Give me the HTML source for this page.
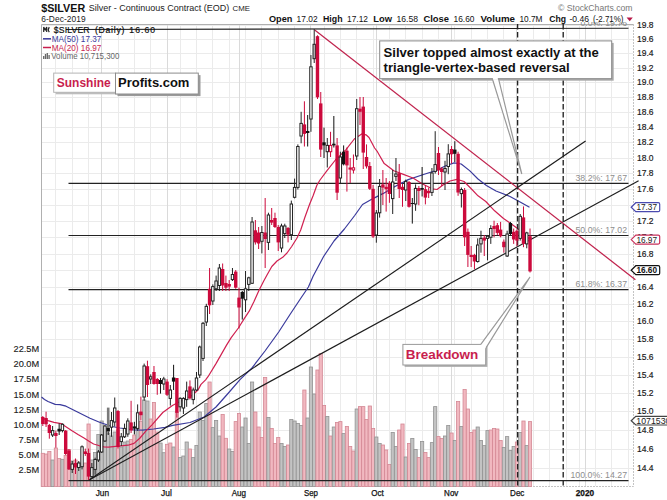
<!DOCTYPE html>
<html><head><meta charset="utf-8"><title>$SILVER chart</title>
<style>html,body{margin:0;padding:0;background:#fff;width:667px;height:500px;overflow:hidden;font-family:"Liberation Sans",sans-serif}</style></head>
<body>
<svg width="667" height="500" viewBox="0 0 667 500" style="position:absolute;left:0;top:0;font-family:'Liberation Sans',sans-serif">
<rect x="0" y="0" width="667" height="500" fill="#fff"/>
<path d="M41 468.5H633M41 449.5H633M41 430.5H633M41 411.5H633M41 393.5H633M41 375.5H633M41 357.5H633M41 339.5H633M41 321.5H633M41 304.5H633M41 287.5H633M41 270.5H633M41 254.5H633M41 237.5H633M41 221.5H633M41 205.5H633M41 189.5H633M41 173.5H633M41 158.5H633M41 142.5H633M41 127.5H633M41 112.5H633M41 97.5H633M41 82.5H633M41 68.5H633M41 53.5H633M41 39.5H633M41 25.5H633M55.5 24V486M72.5 24V486M88.5 24V486M118.5 24V486M134.5 24V486M150.5 24V486M180.5 24V486M196.5 24V486M212.5 24V486M229.5 24V486M245.5 24V486M261.5 24V486M278.5 24V486M294.5 24V486M324.5 24V486M340.5 24V486M356.5 24V486M373.5 24V486M389.5 24V486M405.5 24V486M422.5 24V486M438.5 24V486M454.5 24V486M471.5 24V486M487.5 24V486M503.5 24V486M533.5 24V486M549.5 24V486M566.5 24V486M579.5 24V486M595.5 24V486M611.5 24V486M628.5 24V486" stroke="#ebebeb" stroke-width="1" fill="none"/>
<path d="M101.5 24V486M167.5 24V486M239.5 24V486M310.5 24V486M376.5 24V486M451.5 24V486M516.5 24V486M585.5 24V486" stroke="#dadada" stroke-width="1" fill="none"/>
<path d="M41.5 486.5V24.5H633.5" stroke="#b0b0b0" fill="none"/>
<path d="M633.5 24V486.5H41" stroke="#c4c4c4" stroke-dasharray="2 1" fill="none"/>
<rect x="41.20" y="453.3" width="3.2" height="33.2" fill="#f1b8c0" stroke="#d48894" stroke-width="0.8"/>
<rect x="44.47" y="454.0" width="3.2" height="32.5" fill="#f1b8c0" stroke="#d48894" stroke-width="0.8"/>
<rect x="47.74" y="451.5" width="3.2" height="35.0" fill="#f1b8c0" stroke="#d48894" stroke-width="0.8"/>
<rect x="51.01" y="460.0" width="3.2" height="26.5" fill="#c3c3c3" stroke="#929292" stroke-width="0.8"/>
<rect x="54.28" y="448.0" width="3.2" height="38.5" fill="#f1b8c0" stroke="#d48894" stroke-width="0.8"/>
<rect x="57.55" y="458.5" width="3.2" height="28.0" fill="#f1b8c0" stroke="#d48894" stroke-width="0.8"/>
<rect x="60.82" y="459.3" width="3.2" height="27.2" fill="#c3c3c3" stroke="#929292" stroke-width="0.8"/>
<rect x="64.09" y="455.4" width="3.2" height="31.1" fill="#f1b8c0" stroke="#d48894" stroke-width="0.8"/>
<rect x="67.36" y="449.5" width="3.2" height="37.0" fill="#f1b8c0" stroke="#d48894" stroke-width="0.8"/>
<rect x="70.63" y="461.0" width="3.2" height="25.5" fill="#c3c3c3" stroke="#929292" stroke-width="0.8"/>
<rect x="73.90" y="460.0" width="3.2" height="26.5" fill="#f1b8c0" stroke="#d48894" stroke-width="0.8"/>
<rect x="77.17" y="463.0" width="3.2" height="23.5" fill="#c3c3c3" stroke="#929292" stroke-width="0.8"/>
<rect x="80.44" y="464.5" width="3.2" height="22.0" fill="#c3c3c3" stroke="#929292" stroke-width="0.8"/>
<rect x="83.71" y="463.0" width="3.2" height="23.5" fill="#f1b8c0" stroke="#d48894" stroke-width="0.8"/>
<rect x="86.98" y="424.0" width="3.2" height="62.5" fill="#f1b8c0" stroke="#d48894" stroke-width="0.8"/>
<rect x="90.25" y="460.0" width="3.2" height="26.5" fill="#c3c3c3" stroke="#929292" stroke-width="0.8"/>
<rect x="93.52" y="452.5" width="3.2" height="34.0" fill="#c3c3c3" stroke="#929292" stroke-width="0.8"/>
<rect x="96.79" y="434.5" width="3.2" height="52.0" fill="#c3c3c3" stroke="#929292" stroke-width="0.8"/>
<rect x="100.06" y="421.0" width="3.2" height="65.5" fill="#c3c3c3" stroke="#929292" stroke-width="0.8"/>
<rect x="103.33" y="427.0" width="3.2" height="59.5" fill="#c3c3c3" stroke="#929292" stroke-width="0.8"/>
<rect x="106.60" y="433.0" width="3.2" height="53.5" fill="#c3c3c3" stroke="#929292" stroke-width="0.8"/>
<rect x="109.87" y="436.0" width="3.2" height="50.5" fill="#c3c3c3" stroke="#929292" stroke-width="0.8"/>
<rect x="113.14" y="432.0" width="3.2" height="54.5" fill="#c3c3c3" stroke="#929292" stroke-width="0.8"/>
<rect x="116.41" y="430.0" width="3.2" height="56.5" fill="#f1b8c0" stroke="#d48894" stroke-width="0.8"/>
<rect x="119.68" y="447.0" width="3.2" height="39.5" fill="#c3c3c3" stroke="#929292" stroke-width="0.8"/>
<rect x="122.95" y="442.0" width="3.2" height="44.5" fill="#c3c3c3" stroke="#929292" stroke-width="0.8"/>
<rect x="126.22" y="441.0" width="3.2" height="45.5" fill="#c3c3c3" stroke="#929292" stroke-width="0.8"/>
<rect x="129.49" y="439.5" width="3.2" height="47.0" fill="#f1b8c0" stroke="#d48894" stroke-width="0.8"/>
<rect x="132.76" y="435.0" width="3.2" height="51.5" fill="#f1b8c0" stroke="#d48894" stroke-width="0.8"/>
<rect x="136.03" y="429.0" width="3.2" height="57.5" fill="#c3c3c3" stroke="#929292" stroke-width="0.8"/>
<rect x="139.30" y="421.5" width="3.2" height="65.0" fill="#f1b8c0" stroke="#d48894" stroke-width="0.8"/>
<rect x="142.57" y="400.0" width="3.2" height="86.5" fill="#c3c3c3" stroke="#929292" stroke-width="0.8"/>
<rect x="145.84" y="401.0" width="3.2" height="85.5" fill="#c3c3c3" stroke="#929292" stroke-width="0.8"/>
<rect x="149.11" y="419.0" width="3.2" height="67.5" fill="#f1b8c0" stroke="#d48894" stroke-width="0.8"/>
<rect x="152.38" y="402.4" width="3.2" height="84.1" fill="#f1b8c0" stroke="#d48894" stroke-width="0.8"/>
<rect x="155.65" y="432.0" width="3.2" height="54.5" fill="#f1b8c0" stroke="#d48894" stroke-width="0.8"/>
<rect x="158.92" y="443.0" width="3.2" height="43.5" fill="#c3c3c3" stroke="#929292" stroke-width="0.8"/>
<rect x="162.19" y="452.7" width="3.2" height="33.8" fill="#c3c3c3" stroke="#929292" stroke-width="0.8"/>
<rect x="165.46" y="444.3" width="3.2" height="42.2" fill="#f1b8c0" stroke="#d48894" stroke-width="0.8"/>
<rect x="168.73" y="443.0" width="3.2" height="43.5" fill="#f1b8c0" stroke="#d48894" stroke-width="0.8"/>
<rect x="172.00" y="447.0" width="3.2" height="39.5" fill="#c3c3c3" stroke="#929292" stroke-width="0.8"/>
<rect x="175.27" y="412.0" width="3.2" height="74.5" fill="#f1b8c0" stroke="#d48894" stroke-width="0.8"/>
<rect x="178.54" y="457.5" width="3.2" height="29.0" fill="#c3c3c3" stroke="#929292" stroke-width="0.8"/>
<rect x="181.81" y="456.0" width="3.2" height="30.5" fill="#c3c3c3" stroke="#929292" stroke-width="0.8"/>
<rect x="185.08" y="442.0" width="3.2" height="44.5" fill="#c3c3c3" stroke="#929292" stroke-width="0.8"/>
<rect x="188.35" y="449.0" width="3.2" height="37.5" fill="#f1b8c0" stroke="#d48894" stroke-width="0.8"/>
<rect x="191.62" y="457.5" width="3.2" height="29.0" fill="#c3c3c3" stroke="#929292" stroke-width="0.8"/>
<rect x="194.89" y="445.5" width="3.2" height="41.0" fill="#c3c3c3" stroke="#929292" stroke-width="0.8"/>
<rect x="198.16" y="412.0" width="3.2" height="74.5" fill="#c3c3c3" stroke="#929292" stroke-width="0.8"/>
<rect x="201.43" y="420.4" width="3.2" height="66.1" fill="#c3c3c3" stroke="#929292" stroke-width="0.8"/>
<rect x="204.70" y="403.6" width="3.2" height="82.9" fill="#c3c3c3" stroke="#929292" stroke-width="0.8"/>
<rect x="207.97" y="382.0" width="3.2" height="104.5" fill="#f1b8c0" stroke="#d48894" stroke-width="0.8"/>
<rect x="211.24" y="427.6" width="3.2" height="58.9" fill="#c3c3c3" stroke="#929292" stroke-width="0.8"/>
<rect x="214.51" y="420.4" width="3.2" height="66.1" fill="#c3c3c3" stroke="#929292" stroke-width="0.8"/>
<rect x="217.78" y="436.0" width="3.2" height="50.5" fill="#c3c3c3" stroke="#929292" stroke-width="0.8"/>
<rect x="221.05" y="414.4" width="3.2" height="72.1" fill="#f1b8c0" stroke="#d48894" stroke-width="0.8"/>
<rect x="224.32" y="438.3" width="3.2" height="48.2" fill="#f1b8c0" stroke="#d48894" stroke-width="0.8"/>
<rect x="227.59" y="449.0" width="3.2" height="37.5" fill="#c3c3c3" stroke="#929292" stroke-width="0.8"/>
<rect x="230.86" y="451.5" width="3.2" height="35.0" fill="#c3c3c3" stroke="#929292" stroke-width="0.8"/>
<rect x="234.13" y="421.6" width="3.2" height="64.9" fill="#f1b8c0" stroke="#d48894" stroke-width="0.8"/>
<rect x="237.40" y="413.5" width="3.2" height="73.0" fill="#f1b8c0" stroke="#d48894" stroke-width="0.8"/>
<rect x="240.67" y="427.0" width="3.2" height="59.5" fill="#c3c3c3" stroke="#929292" stroke-width="0.8"/>
<rect x="243.94" y="418.0" width="3.2" height="68.5" fill="#c3c3c3" stroke="#929292" stroke-width="0.8"/>
<rect x="247.21" y="443.5" width="3.2" height="43.0" fill="#c3c3c3" stroke="#929292" stroke-width="0.8"/>
<rect x="250.48" y="382.0" width="3.2" height="104.5" fill="#c3c3c3" stroke="#929292" stroke-width="0.8"/>
<rect x="253.75" y="412.0" width="3.2" height="74.5" fill="#f1b8c0" stroke="#d48894" stroke-width="0.8"/>
<rect x="257.02" y="427.0" width="3.2" height="59.5" fill="#f1b8c0" stroke="#d48894" stroke-width="0.8"/>
<rect x="260.29" y="437.5" width="3.2" height="49.0" fill="#f1b8c0" stroke="#d48894" stroke-width="0.8"/>
<rect x="263.56" y="377.5" width="3.2" height="109.0" fill="#f1b8c0" stroke="#d48894" stroke-width="0.8"/>
<rect x="266.83" y="417.4" width="3.2" height="69.1" fill="#c3c3c3" stroke="#929292" stroke-width="0.8"/>
<rect x="270.10" y="428.5" width="3.2" height="58.0" fill="#f1b8c0" stroke="#d48894" stroke-width="0.8"/>
<rect x="273.37" y="443.5" width="3.2" height="43.0" fill="#f1b8c0" stroke="#d48894" stroke-width="0.8"/>
<rect x="276.64" y="437.5" width="3.2" height="49.0" fill="#f1b8c0" stroke="#d48894" stroke-width="0.8"/>
<rect x="279.91" y="443.5" width="3.2" height="43.0" fill="#c3c3c3" stroke="#929292" stroke-width="0.8"/>
<rect x="283.18" y="446.5" width="3.2" height="40.0" fill="#c3c3c3" stroke="#929292" stroke-width="0.8"/>
<rect x="286.45" y="445.0" width="3.2" height="41.5" fill="#f1b8c0" stroke="#d48894" stroke-width="0.8"/>
<rect x="289.72" y="419.5" width="3.2" height="67.0" fill="#c3c3c3" stroke="#929292" stroke-width="0.8"/>
<rect x="292.99" y="421.0" width="3.2" height="65.5" fill="#c3c3c3" stroke="#929292" stroke-width="0.8"/>
<rect x="296.26" y="423.4" width="3.2" height="63.1" fill="#c3c3c3" stroke="#929292" stroke-width="0.8"/>
<rect x="299.53" y="425.5" width="3.2" height="61.0" fill="#c3c3c3" stroke="#929292" stroke-width="0.8"/>
<rect x="302.80" y="390.0" width="3.2" height="96.5" fill="#f1b8c0" stroke="#d48894" stroke-width="0.8"/>
<rect x="306.07" y="418.0" width="3.2" height="68.5" fill="#c3c3c3" stroke="#929292" stroke-width="0.8"/>
<rect x="309.34" y="367.0" width="3.2" height="119.5" fill="#c3c3c3" stroke="#929292" stroke-width="0.8"/>
<rect x="312.61" y="394.0" width="3.2" height="92.5" fill="#c3c3c3" stroke="#929292" stroke-width="0.8"/>
<rect x="315.88" y="370.0" width="3.2" height="116.5" fill="#f1b8c0" stroke="#d48894" stroke-width="0.8"/>
<rect x="319.15" y="353.5" width="3.2" height="133.0" fill="#f1b8c0" stroke="#d48894" stroke-width="0.8"/>
<rect x="322.42" y="405.4" width="3.2" height="81.1" fill="#f1b8c0" stroke="#d48894" stroke-width="0.8"/>
<rect x="325.69" y="416.5" width="3.2" height="70.0" fill="#c3c3c3" stroke="#929292" stroke-width="0.8"/>
<rect x="328.96" y="436.0" width="3.2" height="50.5" fill="#f1b8c0" stroke="#d48894" stroke-width="0.8"/>
<rect x="332.23" y="427.0" width="3.2" height="59.5" fill="#c3c3c3" stroke="#929292" stroke-width="0.8"/>
<rect x="335.50" y="422.5" width="3.2" height="64.0" fill="#f1b8c0" stroke="#d48894" stroke-width="0.8"/>
<rect x="338.77" y="421.6" width="3.2" height="64.9" fill="#f1b8c0" stroke="#d48894" stroke-width="0.8"/>
<rect x="342.04" y="433.6" width="3.2" height="52.9" fill="#c3c3c3" stroke="#929292" stroke-width="0.8"/>
<rect x="345.31" y="426.4" width="3.2" height="60.1" fill="#f1b8c0" stroke="#d48894" stroke-width="0.8"/>
<rect x="348.58" y="446.5" width="3.2" height="40.0" fill="#f1b8c0" stroke="#d48894" stroke-width="0.8"/>
<rect x="351.85" y="451.0" width="3.2" height="35.5" fill="#f1b8c0" stroke="#d48894" stroke-width="0.8"/>
<rect x="355.12" y="409.0" width="3.2" height="77.5" fill="#c3c3c3" stroke="#929292" stroke-width="0.8"/>
<rect x="358.39" y="406.6" width="3.2" height="79.9" fill="#f1b8c0" stroke="#d48894" stroke-width="0.8"/>
<rect x="361.66" y="406.6" width="3.2" height="79.9" fill="#f1b8c0" stroke="#d48894" stroke-width="0.8"/>
<rect x="364.93" y="419.5" width="3.2" height="67.0" fill="#f1b8c0" stroke="#d48894" stroke-width="0.8"/>
<rect x="368.20" y="406.0" width="3.2" height="80.5" fill="#f1b8c0" stroke="#d48894" stroke-width="0.8"/>
<rect x="371.47" y="428.5" width="3.2" height="58.0" fill="#f1b8c0" stroke="#d48894" stroke-width="0.8"/>
<rect x="374.74" y="437.0" width="3.2" height="49.5" fill="#c3c3c3" stroke="#929292" stroke-width="0.8"/>
<rect x="378.01" y="443.5" width="3.2" height="43.0" fill="#c3c3c3" stroke="#929292" stroke-width="0.8"/>
<rect x="381.28" y="445.0" width="3.2" height="41.5" fill="#f1b8c0" stroke="#d48894" stroke-width="0.8"/>
<rect x="384.55" y="450.0" width="3.2" height="36.5" fill="#f1b8c0" stroke="#d48894" stroke-width="0.8"/>
<rect x="387.82" y="464.5" width="3.2" height="22.0" fill="#f1b8c0" stroke="#d48894" stroke-width="0.8"/>
<rect x="391.09" y="432.4" width="3.2" height="54.1" fill="#c3c3c3" stroke="#929292" stroke-width="0.8"/>
<rect x="394.36" y="446.5" width="3.2" height="40.0" fill="#c3c3c3" stroke="#929292" stroke-width="0.8"/>
<rect x="397.63" y="430.0" width="3.2" height="56.5" fill="#f1b8c0" stroke="#d48894" stroke-width="0.8"/>
<rect x="400.90" y="424.0" width="3.2" height="62.5" fill="#f1b8c0" stroke="#d48894" stroke-width="0.8"/>
<rect x="404.17" y="457.0" width="3.2" height="29.5" fill="#c3c3c3" stroke="#929292" stroke-width="0.8"/>
<rect x="407.44" y="443.5" width="3.2" height="43.0" fill="#f1b8c0" stroke="#d48894" stroke-width="0.8"/>
<rect x="410.71" y="438.4" width="3.2" height="48.1" fill="#c3c3c3" stroke="#929292" stroke-width="0.8"/>
<rect x="413.98" y="449.5" width="3.2" height="37.0" fill="#c3c3c3" stroke="#929292" stroke-width="0.8"/>
<rect x="417.25" y="457.6" width="3.2" height="28.9" fill="#f1b8c0" stroke="#d48894" stroke-width="0.8"/>
<rect x="420.52" y="441.4" width="3.2" height="45.1" fill="#c3c3c3" stroke="#929292" stroke-width="0.8"/>
<rect x="423.79" y="452.5" width="3.2" height="34.0" fill="#f1b8c0" stroke="#d48894" stroke-width="0.8"/>
<rect x="427.06" y="457.6" width="3.2" height="28.9" fill="#f1b8c0" stroke="#d48894" stroke-width="0.8"/>
<rect x="430.33" y="442.6" width="3.2" height="43.9" fill="#c3c3c3" stroke="#929292" stroke-width="0.8"/>
<rect x="433.60" y="406.6" width="3.2" height="79.9" fill="#c3c3c3" stroke="#929292" stroke-width="0.8"/>
<rect x="436.87" y="436.6" width="3.2" height="49.9" fill="#f1b8c0" stroke="#d48894" stroke-width="0.8"/>
<rect x="440.14" y="438.4" width="3.2" height="48.1" fill="#f1b8c0" stroke="#d48894" stroke-width="0.8"/>
<rect x="443.41" y="436.0" width="3.2" height="50.5" fill="#c3c3c3" stroke="#929292" stroke-width="0.8"/>
<rect x="446.68" y="425.5" width="3.2" height="61.0" fill="#c3c3c3" stroke="#929292" stroke-width="0.8"/>
<rect x="449.95" y="433.0" width="3.2" height="53.5" fill="#f1b8c0" stroke="#d48894" stroke-width="0.8"/>
<rect x="453.22" y="440.5" width="3.2" height="46.0" fill="#c3c3c3" stroke="#929292" stroke-width="0.8"/>
<rect x="456.49" y="401.5" width="3.2" height="85.0" fill="#f1b8c0" stroke="#d48894" stroke-width="0.8"/>
<rect x="459.76" y="426.4" width="3.2" height="60.1" fill="#c3c3c3" stroke="#929292" stroke-width="0.8"/>
<rect x="463.03" y="389.5" width="3.2" height="97.0" fill="#f1b8c0" stroke="#d48894" stroke-width="0.8"/>
<rect x="466.30" y="409.0" width="3.2" height="77.5" fill="#f1b8c0" stroke="#d48894" stroke-width="0.8"/>
<rect x="469.57" y="432.4" width="3.2" height="54.1" fill="#f1b8c0" stroke="#d48894" stroke-width="0.8"/>
<rect x="472.84" y="430.0" width="3.2" height="56.5" fill="#f1b8c0" stroke="#d48894" stroke-width="0.8"/>
<rect x="476.11" y="427.0" width="3.2" height="59.5" fill="#c3c3c3" stroke="#929292" stroke-width="0.8"/>
<rect x="479.38" y="440.5" width="3.2" height="46.0" fill="#c3c3c3" stroke="#929292" stroke-width="0.8"/>
<rect x="482.65" y="445.6" width="3.2" height="40.9" fill="#c3c3c3" stroke="#929292" stroke-width="0.8"/>
<rect x="485.92" y="430.6" width="3.2" height="55.9" fill="#c3c3c3" stroke="#929292" stroke-width="0.8"/>
<rect x="489.19" y="430.0" width="3.2" height="56.5" fill="#f1b8c0" stroke="#d48894" stroke-width="0.8"/>
<rect x="492.46" y="428.5" width="3.2" height="58.0" fill="#f1b8c0" stroke="#d48894" stroke-width="0.8"/>
<rect x="495.73" y="429.0" width="3.2" height="57.5" fill="#f1b8c0" stroke="#d48894" stroke-width="0.8"/>
<rect x="499.00" y="440.5" width="3.2" height="46.0" fill="#f1b8c0" stroke="#d48894" stroke-width="0.8"/>
<rect x="502.27" y="447.4" width="3.2" height="39.1" fill="#c3c3c3" stroke="#929292" stroke-width="0.8"/>
<rect x="505.54" y="436.6" width="3.2" height="49.9" fill="#c3c3c3" stroke="#929292" stroke-width="0.8"/>
<rect x="508.81" y="450.4" width="3.2" height="36.1" fill="#c3c3c3" stroke="#929292" stroke-width="0.8"/>
<rect x="512.08" y="446.5" width="3.2" height="40.0" fill="#c3c3c3" stroke="#929292" stroke-width="0.8"/>
<rect x="515.35" y="442.0" width="3.2" height="44.5" fill="#f1b8c0" stroke="#d48894" stroke-width="0.8"/>
<rect x="518.62" y="432.4" width="3.2" height="54.1" fill="#c3c3c3" stroke="#929292" stroke-width="0.8"/>
<rect x="521.89" y="421.0" width="3.2" height="65.5" fill="#f1b8c0" stroke="#d48894" stroke-width="0.8"/>
<rect x="525.16" y="445.6" width="3.2" height="40.9" fill="#c3c3c3" stroke="#929292" stroke-width="0.8"/>
<rect x="528.43" y="421.6" width="3.2" height="64.9" fill="#f1b8c0" stroke="#d48894" stroke-width="0.8"/>
<path d="M68.5 183.3H628.5" stroke="#222" stroke-width="1.15"/>
<path d="M68.5 235.5H628.5" stroke="#222" stroke-width="1.15"/>
<path d="M68.5 289.6H628.5" stroke="#222" stroke-width="1.15"/>
<path d="M68.5 480.6H628.5" stroke="#222" stroke-width="1.15"/>
<path d="M66 29.5L628.5 28.2" stroke="#222" stroke-width="1.15"/>
<defs><clipPath id="hc"><rect x="560" y="22" width="80" height="10"/></clipPath></defs>
<text x="580.5" y="25.6" font-size="8.3" fill="#8e8e8e" textLength="46.5" lengthAdjust="spacingAndGlyphs" clip-path="url(#hc)">0.0%: 19.76</text>
<text x="575.5" y="180.6" font-size="8.3" fill="#8e8e8e" textLength="51.5" lengthAdjust="spacingAndGlyphs">38.2%: 17.67</text>
<text x="575.5" y="232.8" font-size="8.3" fill="#8e8e8e" textLength="51.5" lengthAdjust="spacingAndGlyphs">50.0%: 17.02</text>
<text x="575.5" y="286.9" font-size="8.3" fill="#8e8e8e" textLength="51.5" lengthAdjust="spacingAndGlyphs">61.8%: 16.37</text>
<text x="570.5" y="477.9" font-size="8.3" fill="#8e8e8e" textLength="56.5" lengthAdjust="spacingAndGlyphs">100.0%: 14.27</text>
<path d="M41.5 397.0 L44.5 399.5 L48.0 401.5 L55.2 404.4 L60.0 404.6 L66.0 406.2 L78.0 412.2 L90.0 418.2 L99.5 422.3 L112.0 426.5 L120.0 428.0 L134.4 430.0 L142.5 430.2 L153.6 429.0 L165.0 427.3 L172.8 425.3 L190.0 422.5 L204.0 417.0 L216.0 407.0 L228.0 393.5 L240.0 379.6 L251.7 368.3 L265.0 351.0 L278.7 332.0 L290.0 314.5 L300.3 299.0 L308.4 287.0 L313.2 276.0 L323.6 256.5 L334.0 241.0 L344.4 229.0 L354.7 215.5 L362.5 204.5 L373.0 198.6 L383.3 193.4 L395.0 186.5 L408.2 179.6 L425.0 174.0 L436.0 170.6 L445.8 165.7 L454.2 162.9 L461.2 164.0 L469.6 170.6 L478.0 179.0 L486.4 185.5 L496.0 191.0 L510.0 196.5 L521.0 202.5 L529.5 207.2" stroke="#3a3a9c" stroke-width="1.2" fill="none" stroke-linejoin="round"/>
<path d="M41.0 417.5 L48.0 420.6 L54.0 422.4 L61.2 423.6 L64.8 426.0 L72.0 430.8 L78.0 434.5 L84.0 438.0 L89.0 441.3 L93.6 444.0 L99.6 445.8 L104.0 446.8 L108.5 447.2 L115.7 446.3 L121.0 445.8 L128.0 445.2 L134.0 443.4 L140.0 438.0 L146.0 430.8 L152.0 424.8 L162.8 412.5 L172.4 405.5 L182.0 400.5 L191.6 395.8 L198.0 390.0 L201.0 384.4 L205.6 379.8 L208.0 376.7 L216.0 363.6 L226.4 345.4 L231.2 337.6 L238.4 328.0 L244.4 318.4 L249.2 311.2 L254.0 301.6 L258.8 290.8 L263.6 281.2 L267.0 275.0 L271.8 266.5 L277.0 261.0 L282.7 257.3 L287.0 253.0 L291.7 246.5 L297.0 238.0 L300.7 230.0 L305.0 217.0 L309.7 204.0 L313.0 196.0 L316.9 185.2 L320.0 180.0 L327.0 170.6 L335.4 160.0 L346.0 149.6 L354.3 139.0 L361.7 133.9 L366.0 134.8 L369.0 137.5 L374.6 148.0 L377.4 151.7 L384.2 163.6 L393.8 170.8 L403.4 174.4 L413.0 178.0 L422.6 184.0 L432.2 188.8 L437.0 189.5 L443.0 185.0 L450.0 181.0 L457.0 179.3 L464.0 181.5 L471.0 188.5 L478.0 195.8 L485.8 201.5 L494.6 210.8 L503.5 218.5 L510.0 223.0 L518.9 229.6 L527.7 237.0 L529.5 239.6" stroke="#d02050" stroke-width="1.2" fill="none" stroke-linejoin="round"/>
<path d="M89.5 479.8L585.6 141" stroke="#1c1c1c" stroke-width="1.15"/>
<path d="M89.5 479.8L638.6 180.8" stroke="#1c1c1c" stroke-width="1.15"/>
<path d="M314.7 30L635.4 279.7" stroke="#c0244e" stroke-width="1.25"/>
<path d="M517.6 24V486M563.2 24V486" stroke="#222" stroke-width="1.35" stroke-dasharray="5.6 2.4"/>
<path d="M42.80 416.0V426.0" stroke="#cc0a3c" stroke-width="1"/>
<rect x="41.10" y="417.0" width="3.4" height="7.0" fill="#cc0a3c"/>
<path d="M46.07 411.7V427.0" stroke="#cc0a3c" stroke-width="1"/>
<rect x="44.37" y="418.0" width="3.4" height="6.3" fill="#cc0a3c"/>
<path d="M49.34 424.0V438.7" stroke="#cc0a3c" stroke-width="1"/>
<rect x="47.64" y="425.0" width="3.4" height="8.0" fill="#cc0a3c"/>
<path d="M52.61 426.0V437.0" stroke="#222" stroke-width="1"/>
<rect x="51.41" y="430.6" width="2.4" height="4.4" fill="#fff" stroke="#222" stroke-width="1"/>
<path d="M55.88 430.6V447.7" stroke="#cc0a3c" stroke-width="1"/>
<rect x="54.18" y="433.0" width="3.4" height="3.0" fill="#cc0a3c"/>
<path d="M59.15 423.4V435.0" stroke="#111" stroke-width="1"/>
<rect x="57.45" y="428.8" width="3.4" height="2.7" fill="#111"/>
<path d="M62.42 423.4V432.4" stroke="#222" stroke-width="1"/>
<rect x="61.22" y="424.3" width="2.4" height="6.3" fill="#fff" stroke="#222" stroke-width="1"/>
<path d="M65.69 430.0V455.0" stroke="#cc0a3c" stroke-width="1"/>
<rect x="63.99" y="430.6" width="3.4" height="23.4" fill="#cc0a3c"/>
<path d="M68.96 449.0V470.0" stroke="#cc0a3c" stroke-width="1"/>
<rect x="67.26" y="450.5" width="3.4" height="18.9" fill="#cc0a3c"/>
<path d="M72.23 461.0V473.0" stroke="#222" stroke-width="1"/>
<rect x="71.03" y="464.0" width="2.4" height="5.4" fill="#fff" stroke="#222" stroke-width="1"/>
<path d="M75.50 458.5V474.0" stroke="#cc0a3c" stroke-width="1"/>
<rect x="73.80" y="463.0" width="3.4" height="4.5" fill="#cc0a3c"/>
<path d="M78.77 461.0V471.0" stroke="#222" stroke-width="1"/>
<rect x="77.57" y="463.0" width="2.4" height="4.5" fill="#fff" stroke="#222" stroke-width="1"/>
<path d="M82.04 445.4V469.4" stroke="#222" stroke-width="1"/>
<rect x="80.84" y="446.8" width="2.4" height="19.9" fill="#fff" stroke="#222" stroke-width="1"/>
<path d="M85.31 448.6V455.9" stroke="#cc0a3c" stroke-width="1"/>
<rect x="83.61" y="451.4" width="3.4" height="2.6" fill="#cc0a3c"/>
<path d="M88.58 448.6V480.0" stroke="#cc0a3c" stroke-width="1"/>
<rect x="86.88" y="453.0" width="3.4" height="23.6" fill="#cc0a3c"/>
<path d="M91.85 463.0V477.5" stroke="#222" stroke-width="1"/>
<rect x="90.65" y="467.6" width="2.4" height="9.0" fill="#fff" stroke="#222" stroke-width="1"/>
<path d="M95.12 457.7V474.8" stroke="#222" stroke-width="1"/>
<rect x="93.92" y="459.5" width="2.4" height="9.9" fill="#fff" stroke="#222" stroke-width="1"/>
<path d="M98.39 450.0V462.0" stroke="#222" stroke-width="1"/>
<rect x="97.19" y="452.0" width="2.4" height="8.0" fill="#fff" stroke="#222" stroke-width="1"/>
<path d="M101.66 434.0V453.0" stroke="#222" stroke-width="1"/>
<rect x="100.46" y="435.0" width="2.4" height="17.0" fill="#fff" stroke="#222" stroke-width="1"/>
<path d="M104.93 425.0V442.0" stroke="#222" stroke-width="1"/>
<rect x="103.73" y="426.0" width="2.4" height="15.0" fill="#fff" stroke="#222" stroke-width="1"/>
<rect x="106.90" y="407.6" width="2.6" height="20.4" fill="#7a7a7a"/>
<path d="M108.20 431.5V435.0" stroke="#111" stroke-width="1"/>
<rect x="106.50" y="428.0" width="3.4" height="3.5" fill="#111"/>
<path d="M111.47 412.0V436.8" stroke="#222" stroke-width="1"/>
<rect x="110.27" y="420.6" width="2.4" height="6.6" fill="#fff" stroke="#222" stroke-width="1"/>
<path d="M114.74 397.5V426.5" stroke="#222" stroke-width="1"/>
<rect x="113.54" y="408.0" width="2.4" height="14.0" fill="#fff" stroke="#222" stroke-width="1"/>
<path d="M118.01 410.0V448.5" stroke="#cc0a3c" stroke-width="1"/>
<rect x="116.31" y="411.0" width="3.4" height="36.0" fill="#cc0a3c"/>
<path d="M121.28 433.0V446.0" stroke="#222" stroke-width="1"/>
<rect x="120.08" y="436.8" width="2.4" height="4.8" fill="#fff" stroke="#222" stroke-width="1"/>
<path d="M124.55 423.6V438.0" stroke="#222" stroke-width="1"/>
<rect x="123.35" y="428.4" width="2.4" height="8.4" fill="#fff" stroke="#222" stroke-width="1"/>
<path d="M127.82 418.3V436.8" stroke="#222" stroke-width="1"/>
<rect x="126.62" y="421.0" width="2.4" height="13.0" fill="#fff" stroke="#222" stroke-width="1"/>
<path d="M131.09 400.8V433.0" stroke="#cc0a3c" stroke-width="1"/>
<rect x="129.39" y="422.4" width="3.4" height="8.1" fill="#cc0a3c"/>
<path d="M134.36 421.8V434.4" stroke="#111" stroke-width="1"/>
<rect x="132.66" y="426.4" width="3.4" height="2.2" fill="#111"/>
<path d="M137.63 404.4V430.8" stroke="#222" stroke-width="1"/>
<rect x="136.43" y="412.8" width="2.4" height="15.6" fill="#fff" stroke="#222" stroke-width="1"/>
<path d="M140.90 396.6V420.5" stroke="#cc0a3c" stroke-width="1"/>
<rect x="139.20" y="411.6" width="3.4" height="3.6" fill="#cc0a3c"/>
<path d="M144.17 363.6V400.8" stroke="#222" stroke-width="1"/>
<rect x="142.97" y="366.0" width="2.4" height="31.0" fill="#fff" stroke="#222" stroke-width="1"/>
<path d="M147.44 360.7V397.0" stroke="#cc0a3c" stroke-width="1"/>
<rect x="145.74" y="366.2" width="3.4" height="18.8" fill="#cc0a3c"/>
<path d="M150.71 374.4V384.0" stroke="#222" stroke-width="1"/>
<rect x="149.51" y="376.8" width="2.4" height="2.2" fill="#fff" stroke="#222" stroke-width="1"/>
<path d="M153.98 366.0V384.7" stroke="#cc0a3c" stroke-width="1"/>
<rect x="152.28" y="372.0" width="3.4" height="12.0" fill="#cc0a3c"/>
<path d="M157.25 378.0V394.8" stroke="#cc0a3c" stroke-width="1"/>
<rect x="155.55" y="379.0" width="3.4" height="5.0" fill="#cc0a3c"/>
<path d="M160.52 378.0V393.6" stroke="#111" stroke-width="1"/>
<rect x="158.82" y="380.0" width="3.4" height="4.0" fill="#111"/>
<path d="M163.79 376.8V390.0" stroke="#222" stroke-width="1"/>
<rect x="162.59" y="379.0" width="2.4" height="5.0" fill="#fff" stroke="#222" stroke-width="1"/>
<path d="M167.06 379.2V396.0" stroke="#cc0a3c" stroke-width="1"/>
<rect x="165.36" y="381.6" width="3.4" height="13.2" fill="#cc0a3c"/>
<path d="M170.33 385.0V405.6" stroke="#222" stroke-width="1"/>
<rect x="169.13" y="390.0" width="2.4" height="8.4" fill="#fff" stroke="#222" stroke-width="1"/>
<path d="M173.60 364.8V390.0" stroke="#111" stroke-width="1"/>
<rect x="171.90" y="377.5" width="3.4" height="4.1" fill="#111"/>
<path d="M176.87 378.0V417.6" stroke="#cc0a3c" stroke-width="1"/>
<rect x="175.17" y="378.0" width="3.4" height="34.8" fill="#cc0a3c"/>
<path d="M180.14 397.2V411.6" stroke="#222" stroke-width="1"/>
<rect x="178.94" y="398.4" width="2.4" height="8.4" fill="#fff" stroke="#222" stroke-width="1"/>
<path d="M183.41 397.2V414.0" stroke="#222" stroke-width="1"/>
<rect x="182.21" y="398.4" width="2.4" height="9.6" fill="#fff" stroke="#222" stroke-width="1"/>
<path d="M186.68 381.6V406.8" stroke="#222" stroke-width="1"/>
<rect x="185.48" y="391.0" width="2.4" height="8.6" fill="#fff" stroke="#222" stroke-width="1"/>
<path d="M189.95 380.4V399.6" stroke="#cc0a3c" stroke-width="1"/>
<rect x="188.25" y="386.4" width="3.4" height="12.0" fill="#cc0a3c"/>
<path d="M193.22 387.6V404.4" stroke="#222" stroke-width="1"/>
<rect x="192.02" y="390.0" width="2.4" height="9.6" fill="#fff" stroke="#222" stroke-width="1"/>
<path d="M196.49 372.0V391.0" stroke="#222" stroke-width="1"/>
<rect x="195.29" y="378.0" width="2.4" height="12.0" fill="#fff" stroke="#222" stroke-width="1"/>
<path d="M199.76 345.6V378.0" stroke="#222" stroke-width="1"/>
<rect x="198.56" y="347.0" width="2.4" height="28.0" fill="#fff" stroke="#222" stroke-width="1"/>
<path d="M203.03 322.0V361.0" stroke="#222" stroke-width="1"/>
<rect x="201.83" y="323.3" width="2.4" height="35.1" fill="#fff" stroke="#222" stroke-width="1"/>
<path d="M206.30 303.8V326.0" stroke="#222" stroke-width="1"/>
<rect x="205.10" y="306.4" width="2.4" height="15.6" fill="#fff" stroke="#222" stroke-width="1"/>
<path d="M209.57 268.0V314.0" stroke="#cc0a3c" stroke-width="1"/>
<rect x="207.87" y="288.8" width="3.4" height="16.5" fill="#cc0a3c"/>
<path d="M212.84 284.4V305.0" stroke="#222" stroke-width="1"/>
<rect x="211.64" y="286.6" width="2.4" height="14.4" fill="#fff" stroke="#222" stroke-width="1"/>
<path d="M216.11 275.6V291.0" stroke="#222" stroke-width="1"/>
<rect x="214.91" y="281.0" width="2.4" height="7.8" fill="#fff" stroke="#222" stroke-width="1"/>
<path d="M219.38 264.0V291.0" stroke="#222" stroke-width="1"/>
<rect x="218.18" y="268.0" width="2.4" height="17.5" fill="#fff" stroke="#222" stroke-width="1"/>
<path d="M222.65 263.5V291.0" stroke="#cc0a3c" stroke-width="1"/>
<rect x="220.95" y="269.0" width="3.4" height="16.5" fill="#cc0a3c"/>
<path d="M225.92 275.6V291.0" stroke="#cc0a3c" stroke-width="1"/>
<rect x="224.22" y="283.0" width="3.4" height="4.7" fill="#cc0a3c"/>
<path d="M229.19 280.0V291.0" stroke="#cc0a3c" stroke-width="1"/>
<rect x="227.49" y="284.0" width="3.4" height="2.6" fill="#cc0a3c"/>
<path d="M232.46 268.0V281.0" stroke="#222" stroke-width="1"/>
<rect x="231.26" y="274.5" width="2.4" height="5.1" fill="#fff" stroke="#222" stroke-width="1"/>
<path d="M235.73 270.0V288.8" stroke="#cc0a3c" stroke-width="1"/>
<rect x="234.03" y="271.6" width="3.4" height="16.1" fill="#cc0a3c"/>
<path d="M239.00 287.7V328.4" stroke="#cc0a3c" stroke-width="1"/>
<rect x="237.30" y="297.6" width="3.4" height="9.9" fill="#cc0a3c"/>
<path d="M242.27 291.0V319.6" stroke="#111" stroke-width="1"/>
<rect x="240.57" y="292.0" width="3.4" height="6.7" fill="#111"/>
<path d="M245.54 271.0V312.0" stroke="#222" stroke-width="1"/>
<rect x="244.34" y="288.8" width="2.4" height="11.0" fill="#fff" stroke="#222" stroke-width="1"/>
<path d="M248.81 276.7V291.0" stroke="#222" stroke-width="1"/>
<rect x="247.61" y="277.8" width="2.4" height="6.6" fill="#fff" stroke="#222" stroke-width="1"/>
<path d="M252.08 217.0V284.0" stroke="#222" stroke-width="1"/>
<rect x="250.88" y="222.0" width="2.4" height="61.3" fill="#fff" stroke="#222" stroke-width="1"/>
<path d="M255.35 220.0V244.6" stroke="#cc0a3c" stroke-width="1"/>
<rect x="253.65" y="230.3" width="3.4" height="12.1" fill="#cc0a3c"/>
<path d="M258.62 227.0V249.0" stroke="#cc0a3c" stroke-width="1"/>
<rect x="256.92" y="232.5" width="3.4" height="11.0" fill="#cc0a3c"/>
<path d="M261.89 226.0V253.4" stroke="#222" stroke-width="1"/>
<rect x="260.69" y="232.5" width="2.4" height="8.8" fill="#fff" stroke="#222" stroke-width="1"/>
<path d="M265.16 198.0V268.0" stroke="#cc0a3c" stroke-width="1"/>
<rect x="263.46" y="232.5" width="3.4" height="6.5" fill="#cc0a3c"/>
<path d="M268.43 212.7V250.0" stroke="#222" stroke-width="1"/>
<rect x="267.23" y="215.0" width="2.4" height="27.4" fill="#fff" stroke="#222" stroke-width="1"/>
<path d="M271.70 208.0V225.0" stroke="#cc0a3c" stroke-width="1"/>
<rect x="270.00" y="220.0" width="3.4" height="2.6" fill="#cc0a3c"/>
<path d="M274.97 212.7V228.0" stroke="#cc0a3c" stroke-width="1"/>
<rect x="273.27" y="218.0" width="3.4" height="9.0" fill="#cc0a3c"/>
<path d="M278.24 225.0V251.0" stroke="#cc0a3c" stroke-width="1"/>
<rect x="276.54" y="227.0" width="3.4" height="15.4" fill="#cc0a3c"/>
<path d="M281.51 223.7V252.3" stroke="#222" stroke-width="1"/>
<rect x="280.31" y="226.0" width="2.4" height="22.0" fill="#fff" stroke="#222" stroke-width="1"/>
<path d="M284.78 223.7V238.0" stroke="#222" stroke-width="1"/>
<rect x="283.58" y="226.0" width="2.4" height="7.6" fill="#fff" stroke="#222" stroke-width="1"/>
<path d="M288.05 227.0V242.4" stroke="#cc0a3c" stroke-width="1"/>
<rect x="286.35" y="228.0" width="3.4" height="6.7" fill="#cc0a3c"/>
<path d="M291.32 200.6V240.0" stroke="#222" stroke-width="1"/>
<rect x="290.12" y="204.0" width="2.4" height="30.7" fill="#fff" stroke="#222" stroke-width="1"/>
<path d="M294.59 178.6V198.4" stroke="#222" stroke-width="1"/>
<rect x="293.39" y="187.4" width="2.4" height="9.9" fill="#fff" stroke="#222" stroke-width="1"/>
<path d="M297.86 144.4V189.5" stroke="#222" stroke-width="1"/>
<rect x="296.66" y="146.5" width="2.4" height="40.9" fill="#fff" stroke="#222" stroke-width="1"/>
<path d="M301.13 111.8V143.3" stroke="#222" stroke-width="1"/>
<rect x="299.93" y="123.4" width="2.4" height="12.6" fill="#fff" stroke="#222" stroke-width="1"/>
<path d="M304.40 101.3V146.5" stroke="#cc0a3c" stroke-width="1"/>
<rect x="302.70" y="124.4" width="3.4" height="9.5" fill="#cc0a3c"/>
<path d="M307.67 115.0V146.5" stroke="#111" stroke-width="1"/>
<rect x="305.97" y="131.0" width="3.4" height="2.0" fill="#111"/>
<path d="M310.94 55.0V131.8" stroke="#222" stroke-width="1"/>
<rect x="309.74" y="66.8" width="2.4" height="52.2" fill="#fff" stroke="#222" stroke-width="1"/>
<path d="M314.21 29.0V63.0" stroke="#222" stroke-width="1"/>
<rect x="313.01" y="44.3" width="2.4" height="14.4" fill="#bbb" stroke="#222" stroke-width="1"/>
<path d="M317.48 35.3V99.0" stroke="#cc0a3c" stroke-width="1"/>
<rect x="315.78" y="36.2" width="3.4" height="61.1" fill="#cc0a3c"/>
<path d="M320.75 92.0V157.0" stroke="#cc0a3c" stroke-width="1"/>
<rect x="319.05" y="103.4" width="3.4" height="46.2" fill="#cc0a3c"/>
<path d="M324.02 127.6V158.0" stroke="#111" stroke-width="1"/>
<rect x="322.32" y="142.3" width="3.4" height="3.1" fill="#111"/>
<path d="M327.29 138.0V167.5" stroke="#222" stroke-width="1"/>
<rect x="326.09" y="145.4" width="2.4" height="6.3" fill="#fff" stroke="#222" stroke-width="1"/>
<path d="M330.56 131.8V157.0" stroke="#cc0a3c" stroke-width="1"/>
<rect x="329.36" y="145.4" width="2.4" height="6.3" fill="#fff" stroke="#cc0a3c" stroke-width="1"/>
<path d="M333.83 116.0V147.5" stroke="#111" stroke-width="1"/>
<rect x="332.13" y="143.7" width="3.4" height="1.7" fill="#111"/>
<path d="M337.10 138.0V200.0" stroke="#cc0a3c" stroke-width="1"/>
<rect x="335.40" y="145.4" width="3.4" height="47.3" fill="#cc0a3c"/>
<path d="M340.37 151.7V183.0" stroke="#222" stroke-width="1"/>
<rect x="339.17" y="157.0" width="2.4" height="21.0" fill="#fff" stroke="#222" stroke-width="1"/>
<path d="M343.64 145.4V165.4" stroke="#111" stroke-width="1"/>
<rect x="341.94" y="151.7" width="3.4" height="12.6" fill="#111"/>
<path d="M346.91 147.5V191.6" stroke="#cc0a3c" stroke-width="1"/>
<rect x="345.21" y="150.7" width="3.4" height="14.7" fill="#cc0a3c"/>
<path d="M350.18 158.0V183.0" stroke="#cc0a3c" stroke-width="1"/>
<rect x="348.48" y="167.5" width="3.4" height="2.1" fill="#cc0a3c"/>
<path d="M353.45 154.5V173.5" stroke="#cc0a3c" stroke-width="1"/>
<rect x="352.25" y="167.8" width="2.4" height="2.2" fill="#fff" stroke="#cc0a3c" stroke-width="1"/>
<path d="M356.72 99.0V160.0" stroke="#222" stroke-width="1"/>
<rect x="355.52" y="108.7" width="2.4" height="47.3" fill="#fff" stroke="#222" stroke-width="1"/>
<path d="M359.99 97.0V125.0" stroke="#cc0a3c" stroke-width="1"/>
<rect x="358.29" y="108.7" width="3.4" height="3.1" fill="#cc0a3c"/>
<path d="M363.26 97.0V169.0" stroke="#cc0a3c" stroke-width="1"/>
<rect x="361.56" y="106.6" width="3.4" height="46.0" fill="#cc0a3c"/>
<path d="M366.53 144.4V168.5" stroke="#cc0a3c" stroke-width="1"/>
<rect x="364.83" y="157.0" width="3.4" height="9.4" fill="#cc0a3c"/>
<path d="M369.80 162.0V190.0" stroke="#cc0a3c" stroke-width="1"/>
<rect x="368.10" y="166.0" width="3.4" height="22.8" fill="#cc0a3c"/>
<path d="M373.07 185.0V238.0" stroke="#cc0a3c" stroke-width="1"/>
<rect x="371.37" y="188.8" width="3.4" height="47.7" fill="#cc0a3c"/>
<path d="M376.34 210.0V242.7" stroke="#222" stroke-width="1"/>
<rect x="375.14" y="213.0" width="2.4" height="22.0" fill="#fff" stroke="#222" stroke-width="1"/>
<path d="M379.61 179.0V217.6" stroke="#222" stroke-width="1"/>
<rect x="378.41" y="186.4" width="2.4" height="26.4" fill="#fff" stroke="#222" stroke-width="1"/>
<path d="M382.88 170.0V205.0" stroke="#cc0a3c" stroke-width="1"/>
<rect x="381.18" y="184.4" width="3.4" height="3.2" fill="#cc0a3c"/>
<path d="M386.15 178.0V211.6" stroke="#cc0a3c" stroke-width="1"/>
<rect x="384.45" y="186.8" width="3.4" height="2.4" fill="#cc0a3c"/>
<path d="M389.42 181.0V202.8" stroke="#cc0a3c" stroke-width="1"/>
<rect x="387.72" y="183.0" width="3.4" height="11.0" fill="#cc0a3c"/>
<path d="M392.69 170.0V214.0" stroke="#222" stroke-width="1"/>
<rect x="391.49" y="182.0" width="2.4" height="16.6" fill="#fff" stroke="#222" stroke-width="1"/>
<path d="M395.96 158.0V181.0" stroke="#222" stroke-width="1"/>
<rect x="394.76" y="174.0" width="2.4" height="2.4" fill="#fff" stroke="#222" stroke-width="1"/>
<path d="M399.23 164.0V198.0" stroke="#cc0a3c" stroke-width="1"/>
<rect x="397.53" y="173.2" width="3.4" height="15.8" fill="#cc0a3c"/>
<path d="M402.50 184.0V206.8" stroke="#cc0a3c" stroke-width="1"/>
<rect x="400.80" y="186.8" width="3.4" height="3.2" fill="#cc0a3c"/>
<path d="M405.77 179.6V201.0" stroke="#222" stroke-width="1"/>
<rect x="404.57" y="181.4" width="2.4" height="8.6" fill="#fff" stroke="#222" stroke-width="1"/>
<path d="M409.04 181.0V207.6" stroke="#cc0a3c" stroke-width="1"/>
<rect x="407.34" y="182.0" width="3.4" height="24.8" fill="#cc0a3c"/>
<path d="M412.31 198.0V223.6" stroke="#111" stroke-width="1"/>
<rect x="410.61" y="203.0" width="3.4" height="1.0" fill="#111"/>
<path d="M415.58 184.4V210.8" stroke="#222" stroke-width="1"/>
<rect x="414.38" y="188.4" width="2.4" height="15.6" fill="#fff" stroke="#222" stroke-width="1"/>
<path d="M418.85 186.0V205.2" stroke="#cc0a3c" stroke-width="1"/>
<rect x="417.15" y="188.0" width="3.4" height="3.0" fill="#cc0a3c"/>
<path d="M422.12 167.0V196.5" stroke="#111" stroke-width="1"/>
<rect x="420.42" y="188.0" width="3.4" height="1.7" fill="#111"/>
<path d="M425.39 185.2V204.4" stroke="#cc0a3c" stroke-width="1"/>
<rect x="423.69" y="189.2" width="3.4" height="8.4" fill="#cc0a3c"/>
<path d="M428.66 187.6V198.0" stroke="#cc0a3c" stroke-width="1"/>
<rect x="426.96" y="190.8" width="3.4" height="2.4" fill="#cc0a3c"/>
<path d="M431.93 168.0V196.0" stroke="#222" stroke-width="1"/>
<rect x="430.73" y="173.0" width="2.4" height="19.4" fill="#fff" stroke="#222" stroke-width="1"/>
<path d="M435.20 131.2V173.6" stroke="#222" stroke-width="1"/>
<rect x="434.00" y="164.6" width="2.4" height="6.8" fill="#fff" stroke="#222" stroke-width="1"/>
<path d="M438.47 147.0V175.0" stroke="#cc0a3c" stroke-width="1"/>
<rect x="436.77" y="153.0" width="3.4" height="17.4" fill="#cc0a3c"/>
<path d="M441.74 167.0V186.0" stroke="#cc0a3c" stroke-width="1"/>
<rect x="440.04" y="168.5" width="3.4" height="3.5" fill="#cc0a3c"/>
<path d="M445.01 160.8V190.0" stroke="#222" stroke-width="1"/>
<rect x="443.81" y="168.5" width="2.4" height="3.5" fill="#fff" stroke="#222" stroke-width="1"/>
<path d="M448.28 144.2V174.2" stroke="#222" stroke-width="1"/>
<rect x="447.08" y="153.9" width="2.4" height="12.6" fill="#fff" stroke="#222" stroke-width="1"/>
<path d="M451.55 146.0V163.6" stroke="#cc0a3c" stroke-width="1"/>
<rect x="449.85" y="149.0" width="3.4" height="5.3" fill="#cc0a3c"/>
<path d="M454.82 141.2V162.0" stroke="#111" stroke-width="1"/>
<rect x="453.12" y="149.6" width="3.4" height="4.2" fill="#111"/>
<path d="M458.09 151.7V195.8" stroke="#cc0a3c" stroke-width="1"/>
<rect x="456.39" y="153.8" width="3.4" height="38.7" fill="#cc0a3c"/>
<path d="M461.36 187.5V207.5" stroke="#222" stroke-width="1"/>
<rect x="460.16" y="189.5" width="2.4" height="4.1" fill="#fff" stroke="#222" stroke-width="1"/>
<path d="M464.63 188.0V246.0" stroke="#cc0a3c" stroke-width="1"/>
<rect x="462.93" y="190.0" width="3.4" height="47.3" fill="#cc0a3c"/>
<path d="M467.90 228.5V267.0" stroke="#cc0a3c" stroke-width="1"/>
<rect x="466.20" y="231.8" width="3.4" height="23.1" fill="#cc0a3c"/>
<path d="M471.17 246.0V267.0" stroke="#cc0a3c" stroke-width="1"/>
<rect x="469.47" y="254.9" width="3.4" height="2.1" fill="#cc0a3c"/>
<path d="M474.44 253.8V269.2" stroke="#cc0a3c" stroke-width="1"/>
<rect x="472.74" y="254.9" width="3.4" height="6.6" fill="#cc0a3c"/>
<path d="M477.71 238.4V262.6" stroke="#222" stroke-width="1"/>
<rect x="476.51" y="245.0" width="2.4" height="16.5" fill="#fff" stroke="#222" stroke-width="1"/>
<path d="M480.98 230.7V252.7" stroke="#222" stroke-width="1"/>
<rect x="479.78" y="238.4" width="2.4" height="5.5" fill="#fff" stroke="#222" stroke-width="1"/>
<path d="M484.25 235.0V256.0" stroke="#cc0a3c" stroke-width="1"/>
<rect x="482.55" y="237.7" width="3.4" height="2.9" fill="#cc0a3c"/>
<path d="M487.52 235.0V260.4" stroke="#222" stroke-width="1"/>
<rect x="486.32" y="236.2" width="2.4" height="2.2" fill="#fff" stroke="#222" stroke-width="1"/>
<path d="M490.79 225.2V243.9" stroke="#222" stroke-width="1"/>
<rect x="489.59" y="228.5" width="2.4" height="8.8" fill="#fff" stroke="#222" stroke-width="1"/>
<path d="M494.06 220.7V237.3" stroke="#cc0a3c" stroke-width="1"/>
<rect x="492.36" y="226.0" width="3.4" height="3.0" fill="#cc0a3c"/>
<path d="M497.33 223.0V235.0" stroke="#cc0a3c" stroke-width="1"/>
<rect x="495.63" y="225.2" width="3.4" height="7.7" fill="#cc0a3c"/>
<path d="M500.60 221.9V237.3" stroke="#cc0a3c" stroke-width="1"/>
<rect x="498.90" y="229.6" width="3.4" height="6.6" fill="#cc0a3c"/>
<path d="M503.87 239.5V252.7" stroke="#cc0a3c" stroke-width="1"/>
<rect x="502.17" y="241.7" width="3.4" height="5.5" fill="#cc0a3c"/>
<path d="M507.14 230.7V257.0" stroke="#222" stroke-width="1"/>
<rect x="505.94" y="234.0" width="2.4" height="22.0" fill="#fff" stroke="#222" stroke-width="1"/>
<path d="M510.41 221.9V235.0" stroke="#111" stroke-width="1"/>
<rect x="508.71" y="223.0" width="3.4" height="11.0" fill="#111"/>
<path d="M513.68 228.5V243.9" stroke="#cc0a3c" stroke-width="1"/>
<rect x="511.98" y="231.8" width="3.4" height="7.7" fill="#cc0a3c"/>
<path d="M516.95 229.6V246.0" stroke="#cc0a3c" stroke-width="1"/>
<rect x="515.25" y="230.7" width="3.4" height="9.9" fill="#cc0a3c"/>
<path d="M520.22 214.0V240.6" stroke="#222" stroke-width="1"/>
<rect x="519.02" y="216.3" width="2.4" height="22.1" fill="#fff" stroke="#222" stroke-width="1"/>
<path d="M523.49 206.4V247.2" stroke="#cc0a3c" stroke-width="1"/>
<rect x="521.79" y="217.4" width="3.4" height="26.5" fill="#cc0a3c"/>
<path d="M526.76 231.8V248.3" stroke="#222" stroke-width="1"/>
<rect x="525.56" y="232.9" width="2.4" height="11.0" fill="#fff" stroke="#222" stroke-width="1"/>
<path d="M530.03 228.5V272.5" stroke="#cc0a3c" stroke-width="1"/>
<rect x="528.33" y="236.2" width="3.4" height="35.2" fill="#cc0a3c"/>
<text x="637" y="471.0" font-size="9.2" fill="#1a1a1a" stroke="#1a1a1a" stroke-width="0.2" textLength="16.5" lengthAdjust="spacingAndGlyphs">14.4</text>
<text x="637" y="451.8" font-size="9.2" fill="#1a1a1a" stroke="#1a1a1a" stroke-width="0.2" textLength="16.5" lengthAdjust="spacingAndGlyphs">14.6</text>
<text x="637" y="432.9" font-size="9.2" fill="#1a1a1a" stroke="#1a1a1a" stroke-width="0.2" textLength="16.5" lengthAdjust="spacingAndGlyphs">14.8</text>
<text x="637" y="414.2" font-size="9.2" fill="#1a1a1a" stroke="#1a1a1a" stroke-width="0.2" textLength="16.5" lengthAdjust="spacingAndGlyphs">15.0</text>
<text x="637" y="395.8" font-size="9.2" fill="#1a1a1a" stroke="#1a1a1a" stroke-width="0.2" textLength="16.5" lengthAdjust="spacingAndGlyphs">15.2</text>
<text x="637" y="377.6" font-size="9.2" fill="#1a1a1a" stroke="#1a1a1a" stroke-width="0.2" textLength="16.5" lengthAdjust="spacingAndGlyphs">15.4</text>
<text x="637" y="359.7" font-size="9.2" fill="#1a1a1a" stroke="#1a1a1a" stroke-width="0.2" textLength="16.5" lengthAdjust="spacingAndGlyphs">15.6</text>
<text x="637" y="341.9" font-size="9.2" fill="#1a1a1a" stroke="#1a1a1a" stroke-width="0.2" textLength="16.5" lengthAdjust="spacingAndGlyphs">15.8</text>
<text x="637" y="324.4" font-size="9.2" fill="#1a1a1a" stroke="#1a1a1a" stroke-width="0.2" textLength="16.5" lengthAdjust="spacingAndGlyphs">16.0</text>
<text x="637" y="307.2" font-size="9.2" fill="#1a1a1a" stroke="#1a1a1a" stroke-width="0.2" textLength="16.5" lengthAdjust="spacingAndGlyphs">16.2</text>
<text x="637" y="290.1" font-size="9.2" fill="#1a1a1a" stroke="#1a1a1a" stroke-width="0.2" textLength="16.5" lengthAdjust="spacingAndGlyphs">16.4</text>
<text x="637" y="273.2" font-size="9.2" fill="#1a1a1a" stroke="#1a1a1a" stroke-width="0.2" textLength="16.5" lengthAdjust="spacingAndGlyphs">16.6</text>
<text x="637" y="256.6" font-size="9.2" fill="#1a1a1a" stroke="#1a1a1a" stroke-width="0.2" textLength="16.5" lengthAdjust="spacingAndGlyphs">16.8</text>
<text x="637" y="240.1" font-size="9.2" fill="#1a1a1a" stroke="#1a1a1a" stroke-width="0.2" textLength="16.5" lengthAdjust="spacingAndGlyphs">17.0</text>
<text x="637" y="223.8" font-size="9.2" fill="#1a1a1a" stroke="#1a1a1a" stroke-width="0.2" textLength="16.5" lengthAdjust="spacingAndGlyphs">17.2</text>
<text x="637" y="207.8" font-size="9.2" fill="#1a1a1a" stroke="#1a1a1a" stroke-width="0.2" textLength="16.5" lengthAdjust="spacingAndGlyphs">17.4</text>
<text x="637" y="191.9" font-size="9.2" fill="#1a1a1a" stroke="#1a1a1a" stroke-width="0.2" textLength="16.5" lengthAdjust="spacingAndGlyphs">17.6</text>
<text x="637" y="176.1" font-size="9.2" fill="#1a1a1a" stroke="#1a1a1a" stroke-width="0.2" textLength="16.5" lengthAdjust="spacingAndGlyphs">17.8</text>
<text x="637" y="160.6" font-size="9.2" fill="#1a1a1a" stroke="#1a1a1a" stroke-width="0.2" textLength="16.5" lengthAdjust="spacingAndGlyphs">18.0</text>
<text x="637" y="145.2" font-size="9.2" fill="#1a1a1a" stroke="#1a1a1a" stroke-width="0.2" textLength="16.5" lengthAdjust="spacingAndGlyphs">18.2</text>
<text x="637" y="130.0" font-size="9.2" fill="#1a1a1a" stroke="#1a1a1a" stroke-width="0.2" textLength="16.5" lengthAdjust="spacingAndGlyphs">18.4</text>
<text x="637" y="115.0" font-size="9.2" fill="#1a1a1a" stroke="#1a1a1a" stroke-width="0.2" textLength="16.5" lengthAdjust="spacingAndGlyphs">18.6</text>
<text x="637" y="100.1" font-size="9.2" fill="#1a1a1a" stroke="#1a1a1a" stroke-width="0.2" textLength="16.5" lengthAdjust="spacingAndGlyphs">18.8</text>
<text x="637" y="85.4" font-size="9.2" fill="#1a1a1a" stroke="#1a1a1a" stroke-width="0.2" textLength="16.5" lengthAdjust="spacingAndGlyphs">19.0</text>
<text x="637" y="70.8" font-size="9.2" fill="#1a1a1a" stroke="#1a1a1a" stroke-width="0.2" textLength="16.5" lengthAdjust="spacingAndGlyphs">19.2</text>
<text x="637" y="56.4" font-size="9.2" fill="#1a1a1a" stroke="#1a1a1a" stroke-width="0.2" textLength="16.5" lengthAdjust="spacingAndGlyphs">19.4</text>
<text x="637" y="42.2" font-size="9.2" fill="#1a1a1a" stroke="#1a1a1a" stroke-width="0.2" textLength="16.5" lengthAdjust="spacingAndGlyphs">19.6</text>
<text x="637" y="28.0" font-size="9.2" fill="#1a1a1a" stroke="#1a1a1a" stroke-width="0.2" textLength="16.5" lengthAdjust="spacingAndGlyphs">19.8</text>
<path d="M631.2 207.2l4.6 -4.5h22.4q1.5 0 1.5 1.5v6q0 1.5 -1.5 1.5h-22.4z" fill="#fff" stroke="#4a4ab0" stroke-width="1.2"/>
<text x="636.4" y="210.2" font-size="8.2" fill="#222" font-weight="normal" textLength="20.6" lengthAdjust="spacingAndGlyphs">17.37</text>
<path d="M631.2 239.6l4.6 -4.5h22.4q1.5 0 1.5 1.5v6q0 1.5 -1.5 1.5h-22.4z" fill="#fff" stroke="#c8305a" stroke-width="1.2"/>
<text x="636.4" y="242.6" font-size="8.2" fill="#222" font-weight="normal" textLength="20.6" lengthAdjust="spacingAndGlyphs">16.97</text>
<path d="M631.2 270.2l4.6 -4.5h22.4q1.5 0 1.5 1.5v6q0 1.5 -1.5 1.5h-22.4z" fill="#fff" stroke="#111" stroke-width="1.2"/>
<text x="636.4" y="273.2" font-size="8.2" fill="#111" font-weight="bold" textLength="20.6" lengthAdjust="spacingAndGlyphs">16.60</text>
<path d="M631.2 420.7l4.6 -4.3h40v8.6h-40z" fill="#fff" stroke="#444" stroke-width="1.2"/>
<text x="636.3" y="423.7" font-size="8.2" fill="#222" textLength="39" lengthAdjust="spacingAndGlyphs">10715300</text>
<text x="18.6" y="473.0" font-size="8.8" fill="#1a1a1a" stroke="#1a1a1a" stroke-width="0.12" textLength="20.6" lengthAdjust="spacingAndGlyphs">2.5M</text>
<text x="18.6" y="457.9" font-size="8.8" fill="#1a1a1a" stroke="#1a1a1a" stroke-width="0.12" textLength="20.6" lengthAdjust="spacingAndGlyphs">5.0M</text>
<text x="18.6" y="442.8" font-size="8.8" fill="#1a1a1a" stroke="#1a1a1a" stroke-width="0.12" textLength="20.6" lengthAdjust="spacingAndGlyphs">7.5M</text>
<text x="13.5" y="427.7" font-size="8.8" fill="#1a1a1a" stroke="#1a1a1a" stroke-width="0.12" textLength="25.7" lengthAdjust="spacingAndGlyphs">10.0M</text>
<text x="13.5" y="412.6" font-size="8.8" fill="#1a1a1a" stroke="#1a1a1a" stroke-width="0.12" textLength="25.7" lengthAdjust="spacingAndGlyphs">12.5M</text>
<text x="13.5" y="397.5" font-size="8.8" fill="#1a1a1a" stroke="#1a1a1a" stroke-width="0.12" textLength="25.7" lengthAdjust="spacingAndGlyphs">15.0M</text>
<text x="13.5" y="382.4" font-size="8.8" fill="#1a1a1a" stroke="#1a1a1a" stroke-width="0.12" textLength="25.7" lengthAdjust="spacingAndGlyphs">17.5M</text>
<text x="13.5" y="367.3" font-size="8.8" fill="#1a1a1a" stroke="#1a1a1a" stroke-width="0.12" textLength="25.7" lengthAdjust="spacingAndGlyphs">20.0M</text>
<text x="13.5" y="352.2" font-size="8.8" fill="#1a1a1a" stroke="#1a1a1a" stroke-width="0.12" textLength="25.7" lengthAdjust="spacingAndGlyphs">22.5M</text>
<text x="95.7" y="495.7" font-size="8.6" fill="#111" stroke="#111" stroke-width="0.25" font-weight="normal" textLength="13.4" lengthAdjust="spacingAndGlyphs">Jun</text>
<text x="161.0" y="495.7" font-size="8.6" fill="#111" stroke="#111" stroke-width="0.25" font-weight="normal" textLength="10.8" lengthAdjust="spacingAndGlyphs">Jul</text>
<text x="231.7" y="495.7" font-size="8.6" fill="#111" stroke="#111" stroke-width="0.25" font-weight="normal" textLength="14.3" lengthAdjust="spacingAndGlyphs">Aug</text>
<text x="304.0" y="495.7" font-size="8.6" fill="#111" stroke="#111" stroke-width="0.25" font-weight="normal" textLength="14" lengthAdjust="spacingAndGlyphs">Sep</text>
<text x="371.2" y="495.7" font-size="8.6" fill="#111" stroke="#111" stroke-width="0.25" font-weight="normal" textLength="12.5" lengthAdjust="spacingAndGlyphs">Oct</text>
<text x="444.1" y="495.7" font-size="8.6" fill="#111" stroke="#111" stroke-width="0.25" font-weight="normal" textLength="14.3" lengthAdjust="spacingAndGlyphs">Nov</text>
<text x="510.1" y="495.7" font-size="8.6" fill="#111" stroke="#111" stroke-width="0.25" font-weight="normal" textLength="14.3" lengthAdjust="spacingAndGlyphs">Dec</text>
<text x="575.7" y="495.7" font-size="8.6" fill="#111" stroke="#111" stroke-width="0.25" font-weight="bold" textLength="18.4" lengthAdjust="spacingAndGlyphs">2020</text>
<text x="41.2" y="11.7" font-size="11.1" font-weight="bold" fill="#111" textLength="44" lengthAdjust="spacingAndGlyphs">$SILVER</text>
<text x="88.8" y="11.2" font-size="9.2" fill="#222" textLength="140.5" lengthAdjust="spacingAndGlyphs">Silver - Continuous Contract (EOD)</text>
<text x="232.5" y="11.2" font-size="7.5" fill="#222" textLength="17.5" lengthAdjust="spacingAndGlyphs">CME</text>
<text x="41.2" y="21.8" font-size="8.4" fill="#222" textLength="44.5" lengthAdjust="spacing">6-Dec-2019</text>
<text x="558" y="11.2" font-size="8.8" fill="#777" textLength="74.5" lengthAdjust="spacingAndGlyphs">© StockCharts.com</text>
<text x="269" y="22.3" font-size="9.6" font-weight="bold" fill="#111" textLength="23.4" lengthAdjust="spacingAndGlyphs">Open</text>
<text x="296.6" y="22.3" font-size="8.6" fill="#111" textLength="21" lengthAdjust="spacingAndGlyphs">17.02</text>
<text x="323" y="22.3" font-size="9.6" font-weight="bold" fill="#111" textLength="19.5" lengthAdjust="spacingAndGlyphs">High</text>
<text x="347" y="22.3" font-size="8.6" fill="#111" textLength="21" lengthAdjust="spacingAndGlyphs">17.12</text>
<text x="373.3" y="22.3" font-size="9.6" font-weight="bold" fill="#111" textLength="18.7" lengthAdjust="spacingAndGlyphs">Low</text>
<text x="396.4" y="22.3" font-size="8.6" fill="#111" textLength="21.6" lengthAdjust="spacingAndGlyphs">16.58</text>
<text x="423.4" y="22.3" font-size="9.6" font-weight="bold" fill="#111" textLength="25.6" lengthAdjust="spacingAndGlyphs">Close</text>
<text x="453.5" y="22.3" font-size="8.6" fill="#111" textLength="21" lengthAdjust="spacingAndGlyphs">16.60</text>
<text x="480.5" y="22.3" font-size="9.6" font-weight="bold" fill="#111" textLength="34.5" lengthAdjust="spacingAndGlyphs">Volume</text>
<text x="519.5" y="22.3" font-size="8.6" fill="#111" textLength="23" lengthAdjust="spacingAndGlyphs">10.7M</text>
<text x="549.2" y="22.3" font-size="9.6" font-weight="bold" fill="#111" textLength="16.8" lengthAdjust="spacingAndGlyphs">Chg</text>
<text x="569.5" y="22.3" font-size="8.6" fill="#111" textLength="19.5" lengthAdjust="spacingAndGlyphs">-0.46</text>
<text x="593" y="22.3" font-size="8.6" fill="#111" textLength="30.5" lengthAdjust="spacingAndGlyphs">(-2.71%)</text>
<path d="M626.6 17.4h6.2l-3.1 3.8z" fill="#b81848"/>
<text x="53.8" y="32.8" font-size="8.6" fill="#111" stroke="#111" stroke-width="0.2" textLength="35.7" lengthAdjust="spacing">$SILVER</text>
<text x="95" y="32.8" font-size="8.6" fill="#111" stroke="#111" stroke-width="0.2" textLength="29.3" lengthAdjust="spacing">(Daily)</text>
<text x="129.3" y="32.8" font-size="8.6" fill="#111" stroke="#111" stroke-width="0.2" textLength="25.7" lengthAdjust="spacing">16.60</text>
<path d="M43 38.8h8" stroke="#3a3a9c" stroke-width="1.5"/>
<text x="51.8" y="42" font-size="8.7" fill="#3a3a9c" textLength="49.5" lengthAdjust="spacingAndGlyphs">MA(50) 17.37</text>
<path d="M43 47.5h8" stroke="#c81e4e" stroke-width="1.5"/>
<text x="51.8" y="50.7" font-size="8.7" fill="#c81e4e" textLength="49.5" lengthAdjust="spacingAndGlyphs">MA(20) 16.97</text>
<path d="M43.7 59v-3M45.5 59v-5M47.3 59v-6M49.1 59v-4" stroke="#666" stroke-width="1.3"/>
<text x="51.3" y="59.3" font-size="8.7" fill="#666" textLength="68" lengthAdjust="spacingAndGlyphs">Volume 10,715,300</text>
<path d="M43.7 32v-5l1.5 3 1.5-3v5M49.3 27.2q-2 2.6 0 5" stroke="#222" stroke-width="1.2" fill="none"/>
<rect x="55.7" y="75.1" width="62" height="19.2" fill="#bdbdbd"/>
<rect x="117.5" y="75.1" width="83" height="21" fill="#9a9a9a"/>
<rect x="53.7" y="73.1" width="61.8" height="19.2" fill="#fff" stroke="#b4b4b4"/>
<rect x="115.5" y="73.1" width="82.8" height="20.9" fill="#fff" stroke="#8c8c8c"/>
<text x="56.8" y="86.8" font-size="12.2" font-weight="bold" fill="#c81e4e" textLength="53.9" lengthAdjust="spacingAndGlyphs">Sunshine</text>
<text x="118" y="87.3" font-size="13.4" font-weight="bold" fill="#111" textLength="71.4" lengthAdjust="spacingAndGlyphs">Profits.com</text>
<rect x="381.7" y="42.9" width="232" height="37.8" fill="#aaa"/>
<path d="M492.2 78.2L521.8 174L498.4 78.2" fill="#fff" stroke="#999" stroke-width="1.2"/>
<rect x="379.7" y="40.9" width="232" height="37.8" fill="#fff" stroke="#888"/>
<path d="M492.9 78.7H497.8" stroke="#fff" stroke-width="1.6"/>
<text x="383.6" y="56.5" font-size="13.6" font-weight="bold" fill="#111" textLength="215.3" lengthAdjust="spacingAndGlyphs">Silver topped almost exactly at the</text>
<text x="383.6" y="72.1" font-size="13.6" font-weight="bold" fill="#111" textLength="186" lengthAdjust="spacingAndGlyphs">triangle-vertex-based reversal</text>
<rect x="404.6" y="346.3" width="82.8" height="20.6" fill="#b0b0b0"/>
<rect x="402.9" y="344.4" width="82.8" height="20.6" fill="#fff" stroke="#999"/>
<path d="M480.8 344.4L530 277L485.7 348.4" fill="#fff" stroke="#999" stroke-width="1.2"/>
<path d="M481.4 345L485.1 348" stroke="#fff" stroke-width="2"/>
<text x="405.7" y="358.9" font-size="13.1" font-weight="bold" fill="#c81e4e" textLength="72.6" lengthAdjust="spacingAndGlyphs">Breakdown</text>
</svg>
</body></html>
